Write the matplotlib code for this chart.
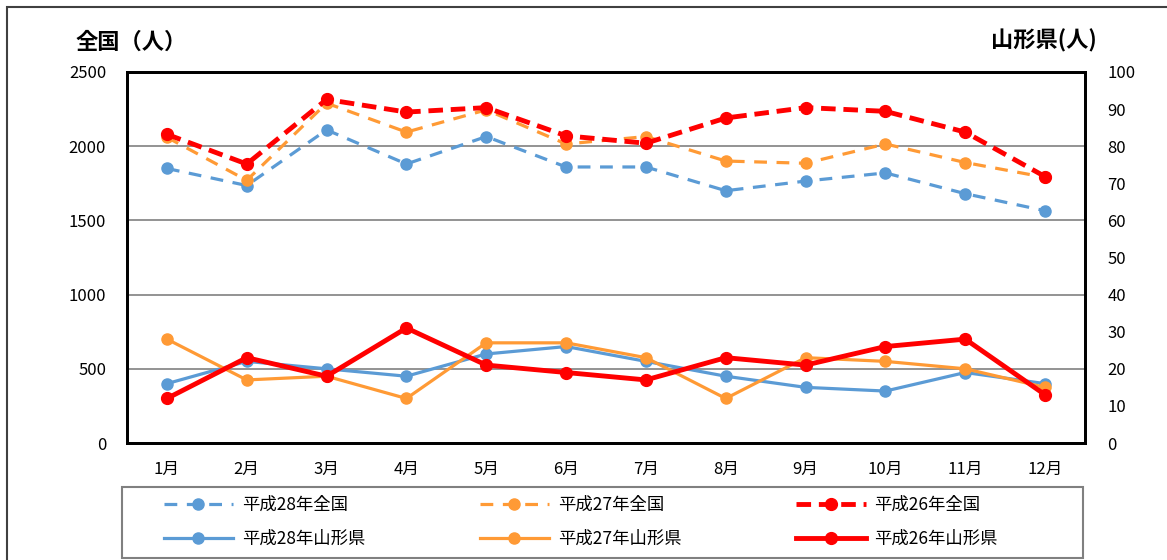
import numpy as np
import matplotlib
matplotlib.use("Agg")
import matplotlib.pyplot as plt
from matplotlib.patches import Rectangle

plt.rcParams['font.family'] = ['Noto Sans CJK JP', 'DejaVu Sans']

# ---------------------------------------------------------------------------
# Data
# ---------------------------------------------------------------------------
months = ['1月', '2月', '3月', '4月', '5月', '6月',
          '7月', '8月', '9月', '10月', '11月', '12月']

# nationwide (left axis)
h28_zenkoku = [1850, 1735, 2110, 1880, 2065, 1860, 1860, 1700, 1765, 1820, 1680, 1565]
h27_zenkoku = [2060, 1770, 2290, 2095, 2245, 2015, 2065, 1900, 1885, 2015, 1890, 1790]
h26_zenkoku = [2080, 1880, 2315, 2230, 2260, 2070, 2020, 2190, 2260, 2235, 2095, 1795]

# Yamagata prefecture (right axis)
h28_yamagata = [16, 22, 20, 18, 24, 26, 22, 18, 15, 14, 19, 16]
h27_yamagata = [28, 17, 18, 12, 27, 27, 23, 12, 23, 22, 20, 15]
h26_yamagata = [12, 23, 18, 31, 21, 19, 17, 23, 21, 26, 28, 13]

BLUE = '#5B9BD5'
ORANGE = '#FF9A35'
RED = '#FF0000'

# ---------------------------------------------------------------------------
# Figure
# ---------------------------------------------------------------------------
W, H = 1167, 560
fig = plt.figure(figsize=(W / 100, H / 100), dpi=100)
ax = fig.add_axes([127 / W, 1 - 443 / H, (1085 - 127) / W, (443 - 72) / H])
ax2 = ax.twinx()

x = np.arange(len(months))

l28z, = ax.plot(x, h28_zenkoku, color=BLUE, lw=2.3, dashes=(4, 3),
                marker='o', ms=8, label='平成28年全国')
l27z, = ax.plot(x, h27_zenkoku, color=ORANGE, lw=2.3, dashes=(4, 3),
                marker='o', ms=8, label='平成27年全国')
l26z, = ax.plot(x, h26_zenkoku, color=RED, lw=3.5, dashes=(3, 1.6),
                marker='o', ms=8.5, label='平成26年全国')

l28y, = ax2.plot(x, h28_yamagata, color=BLUE, lw=2.3,
                 marker='o', ms=8, label='平成28年山形県')
l27y, = ax2.plot(x, h27_yamagata, color=ORANGE, lw=2.3,
                 marker='o', ms=8, label='平成27年山形県')
l26y, = ax2.plot(x, h26_yamagata, color=RED, lw=3.5,
                 marker='o', ms=8.5, label='平成26年山形県')

ax.set_xlim(-0.5, len(months) - 0.5)
ax.set_ylim(0, 2500)
ax.set_yticks(np.arange(0, 2501, 500))
ax2.set_ylim(0, 100)
ax2.set_yticks(np.arange(0, 101, 10))

ax.set_xticks(x)
ax.set_xticklabels(months)
ax.tick_params(axis='x', length=0, pad=13, labelsize=12)
ax.tick_params(axis='y', length=0, pad=15, labelsize=12)
ax2.tick_params(axis='y', length=0, pad=16, labelsize=12)

ax.grid(axis='y', color='#808080', lw=1.2)
ax.set_axisbelow(True)
for a in (ax, ax2):
    for sp in a.spines.values():
        sp.set_color('black')
        sp.set_linewidth(2)

fig.text(75 / W, 1 - 42 / H, '全国（人）', fontsize=16, fontweight='bold',
         va='center', ha='left')
fig.text(1097 / W, 1 - 41 / H, '山形県(人)', fontsize=16, fontweight='bold',
         va='center', ha='right')

# legend: frame drawn separately, entries laid out in three columns
fig.patches.append(Rectangle((122 / W, 1 - 558 / H), (1083 - 122) / W, (558 - 487) / H,
                             transform=fig.transFigure, fill=False,
                             edgecolor='#808080', lw=1.5))
handles = [l28z, l28y, l27z, l27y, l26z, l26y]
fig.legend(handles, [h.get_label() for h in handles], ncol=3,
           loc='center left', bbox_to_anchor=(155 / W, 1 - 522 / H),
           fontsize=12.5, handlelength=4.0, frameon=False,
           borderpad=0, labelspacing=0.95, handletextpad=0.5, columnspacing=6.6)

# outer chart border
fig.patches.append(Rectangle((7 / W, -0.02), 1.05, 1 - 7 / H + 0.02,
                             transform=fig.transFigure, fill=False,
                             edgecolor='#404040', lw=1.5))

fig.savefig('out.png', dpi=100)
